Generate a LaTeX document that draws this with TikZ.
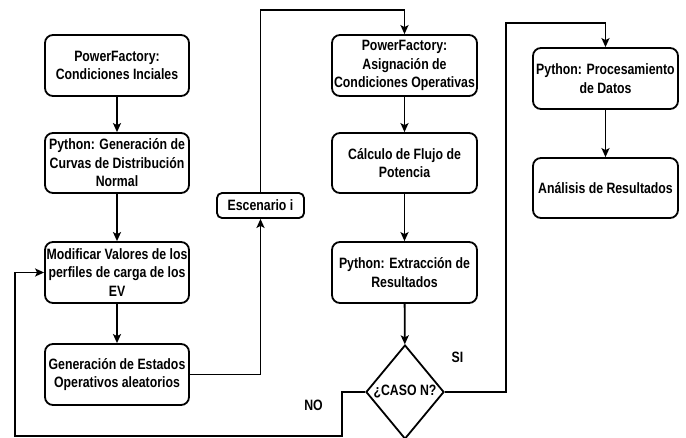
\documentclass[tikz,border=0pt]{standalone}
\usepackage{fontspec}
\setmainfont{Liberation Sans}[FakeStretch=0.82]
\usetikzlibrary{arrows.meta,shapes.geometric}
\begin{document}
\begin{tikzpicture}[x=1pt,y=-1pt,
  every node/.style={font=\bfseries\fontsize{15}{18.5}\selectfont},
  stepbox/.style={draw,line width=1.8pt,rounded corners=8pt,align=center,minimum width=144pt,minimum height=61pt,inner sep=0pt},
  decision/.style={draw,diamond,line width=1.8pt,minimum width=78pt,minimum height=94pt,inner sep=0pt,aspect=0.83},
  lbl/.style={inner sep=0pt},
  arr/.style={line width=1.8pt,-{Stealth[length=9pt,width=8pt,inset=2pt]}},
  ln/.style={line width=1.8pt}]
\useasboundingbox (0,0) rectangle (686,437);
\clip (0,0) rectangle (686,437);
% column 1
\node[stepbox] (b1) at (117,65.5) {PowerFactory:\\Condiciones Inciales};
\node[stepbox,minimum height=60pt] (b2) at (117,163) {Python: Generación de\\Curvas de Distribución\\Normal};
\node[stepbox] (b3) at (117,272.5) {Modificar Valores de los\\perfiles de carga de los\\EV};
\node[stepbox] (b4) at (117,374.5) {Generación de Estados\\Operativos aleatorios};
\node[stepbox,minimum width=87pt,minimum height=25pt,rounded corners=5pt] (esc) at (260.5,205.5) {Escenario i};
% column 2
\node[stepbox,minimum width=145pt] (c1) at (404.5,65.5) {PowerFactory:\\Asignación de\\Condiciones Operativas};
\node[stepbox,minimum width=145pt,minimum height=60pt] (c2) at (404.5,163) {Cálculo de Flujo de\\Potencia};
\node[stepbox,minimum width=145pt] (c3) at (404.5,272.5) {Python: Extracción de\\Resultados};
\node[decision] (dia) at (405,392) {¿CASO N?};
% column 3
\node[stepbox,minimum width=145pt] (d1) at (605.5,78.5) {Python: Procesamiento\\de Datos};
\node[stepbox,minimum width=145pt,minimum height=60pt] (d2) at (605.5,188) {Análisis de Resultados};
% labels
\node[lbl] (si) at (457.5,357) {SI};
\node[lbl] (no) at (313.5,405) {NO};
% turning points
\coordinate (top1) at (404.5,10);
\coordinate (siturn) at (506,23);
\coordinate (noA) at (342,436);
\coordinate (noB) at (15,436);
% connectors
\draw[arr] (b1) -- (b2);
\draw[arr] (b2) -- (b3);
\draw[arr] (b3) -- (b4);
\draw[arr] (b4.east) -| (esc.south);
\draw[arr] (esc.north) |- (top1) -- (c1.north);
\draw[arr] (c1) -- (c2);
\draw[arr] (c2) -- (c3);
\draw[arr] (c3) -- (dia);
\draw[arr] (dia.east) -| (siturn) -| (d1.north);
\draw[arr] (d1) -- (d2);
\draw[arr] (dia.west) -| (noA) -- (noB) |- (b3.west);
\end{tikzpicture}
\end{document}
